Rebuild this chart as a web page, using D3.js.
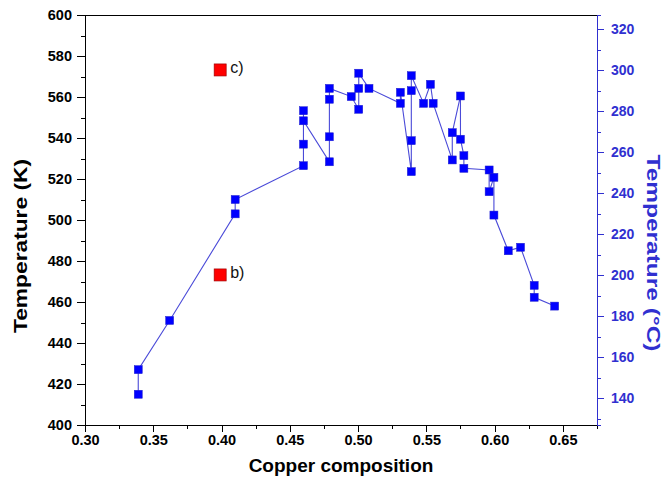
<!DOCTYPE html>
<html lang="en">
<head>
    <meta charset="utf-8">
    <title>Temperature vs copper composition</title>
    <style type="text/css">
        body { margin: 0; background: #fff; }
        svg text { font-family: Arial, "Liberation Sans", sans-serif; }
        .axis path, .axis line { stroke: #000; shape-rendering: crispEdges; }
        .axis text { font-size: 14.5px; font-weight: bold; fill: #000; }
        .axis.right path, .axis.right line { stroke: #3030d0; }
        .axis.right text { fill: #3030d0; font-size: 14px; }
        .line { fill: none; stroke: #4a4ad8; stroke-width: 1.1; }
        .dot { fill: #0000ff; stroke: #2222cc; stroke-width: 0.5; }
        .red { fill: #ff0000; stroke: #a00000; stroke-width: 0.7; }
        .title { font-size: 19px; font-weight: bold; }
    </style>
</head>
<body>
<div id="chart"></div>

<script src="https://cdn.jsdelivr.net/npm/d3@7"></script>
<script type="text/javascript">

    // measured series (blue squares), in drawing order
    var composition = [0.339, 0.339, 0.362, 0.410, 0.410,
        0.460, 0.460, 0.460, 0.460, 0.479, 0.479, 0.479, 0.479,
        0.495, 0.5005, 0.5005, 0.5005, 0.508, 0.531, 0.531,
        0.539, 0.539, 0.539, 0.539, 0.548, 0.553, 0.555,
        0.569, 0.569, 0.575, 0.575, 0.5775, 0.5775,
        0.596, 0.596, 0.5995, 0.5995, 0.610, 0.619, 0.629, 0.629, 0.644];
    var temperatureK = [415, 427, 451, 503, 510,
        526.5, 537, 553.3, 548.4, 528.4, 540.6, 558.9, 564.2,
        560.2, 554, 564.2, 571.6, 564.2, 556.9, 562.3,
        523.6, 538.7, 563.1, 570.4, 556.9, 566.2, 556.9,
        529.3, 542.6, 560.5, 539.4, 531.4, 525.2,
        524.4, 513.8, 520.8, 502.4, 485, 486.7, 468.1, 462.3, 458];

    // marked samples (red squares)
    var markX = [0.399, 0.399];
    var markK = [473.2, 573.2];
    var markLabels = ["b)", "c)"];

    var xTicks = [0.30, 0.35, 0.40, 0.45, 0.50, 0.55, 0.60, 0.65];
    var kTicks = [400, 420, 440, 460, 480, 500, 520, 540, 560, 580, 600];
    var cTicks = [140, 160, 180, 200, 220, 240, 260, 280, 300, 320];

    var W = 663, H = 491;
    var margin = { left: 85, right: 66, top: 15, bottom: 66 };
    var width = W - margin.left - margin.right,
        height = H - margin.top - margin.bottom;

    var svg = d3.select("#chart")
        .append("svg")
        .attr("width", W)
        .attr("height", H)
        .append("g")
        .attr("transform", "translate(" + margin.left + "," + margin.top + ")");

    var xScale = d3.scaleLinear().domain([0.30, 0.675]).range([0, width]);
    var yScale = d3.scaleLinear().domain([400, 600]).range([height, 0]);
    var cScale = d3.scaleLinear().domain([400 - 273.15, 600 - 273.15]).range([height, 0]);

    // top frame
    svg.append("line")
        .attr("x1", 0).attr("x2", width)
        .attr("y1", 0).attr("y2", 0)
        .attr("stroke", "#000")
        .attr("shape-rendering", "crispEdges");

    // x axis, minor then major
    svg.append("g")
        .attr("class", "axis")
        .attr("transform", "translate(0," + height + ")")
        .call(d3.axisBottom(xScale).tickValues(d3.range(0.325, 0.68, 0.05)).tickSize(4).tickFormat(""));
    svg.append("g")
        .attr("class", "axis")
        .attr("transform", "translate(0," + height + ")")
        .call(d3.axisBottom(xScale).tickValues(xTicks).tickSize(7).tickSizeOuter(0).tickPadding(3).tickFormat(d3.format(".2f")));

    // left axis (K)
    svg.append("g")
        .attr("class", "axis")
        .call(d3.axisLeft(yScale).tickValues(d3.range(410, 600, 20)).tickSize(4).tickFormat(""));
    svg.append("g")
        .attr("class", "axis")
        .call(d3.axisLeft(yScale).tickValues(kTicks).tickSize(8).tickSizeOuter(0).tickPadding(5));

    // right axis (°C)
    svg.append("g")
        .attr("class", "axis right")
        .attr("transform", "translate(" + width + ",0)")
        .call(d3.axisRight(cScale).tickValues(d3.range(130, 330, 20)).tickSize(4).tickFormat(""));
    svg.append("g")
        .attr("class", "axis right")
        .attr("transform", "translate(" + width + ",0)")
        .call(d3.axisRight(cScale).tickValues(cTicks).tickSize(7).tickSizeOuter(0).tickPadding(7));

    // titles
    svg.append("text")
        .attr("class", "title")
        .attr("x", width / 2)
        .attr("y", height + 47)
        .attr("text-anchor", "middle")
        .text("Copper composition");

    svg.append("text")
        .attr("class", "title")
        .attr("transform", "translate(" + (27 - margin.left) + "," + (231) + ") rotate(-90)")
        .attr("text-anchor", "middle")
        .attr("textLength", 174)
        .attr("lengthAdjust", "spacingAndGlyphs")
        .text("Temperature (K)");

    svg.append("text")
        .attr("class", "title")
        .attr("fill", "#3030d0")
        .attr("transform", "translate(" + (width + 50) + "," + (238) + ") rotate(90)")
        .attr("text-anchor", "middle")
        .attr("textLength", 197)
        .attr("lengthAdjust", "spacingAndGlyphs")
        .text("Temperature (\u00b0C)");

    // series
    var dataset = composition.map(function(d, i) { return { x: d, y: temperatureK[i] }; });

    var line = d3.line()
        .x(function(d) { return xScale(d.x); })
        .y(function(d) { return yScale(d.y); });

    svg.append("path")
        .datum(dataset)
        .attr("class", "line")
        .attr("d", line);

    var s = 8;
    svg.selectAll(".dot")
        .data(dataset)
        .enter().append("rect")
        .attr("class", "dot")
        .attr("x", function(d) { return xScale(d.x) - s / 2; })
        .attr("y", function(d) { return yScale(d.y) - s / 2; })
        .attr("width", s)
        .attr("height", s);

    var marks = markX.map(function(d, i) { return { x: d, y: markK[i], label: markLabels[i] }; });
    var r = 12;
    svg.selectAll(".red")
        .data(marks)
        .enter().append("rect")
        .attr("class", "red")
        .attr("x", function(d) { return xScale(d.x) - r / 2; })
        .attr("y", function(d) { return yScale(d.y) - r / 2; })
        .attr("width", r)
        .attr("height", r);

    svg.selectAll(".mark-label")
        .data(marks)
        .enter().append("text")
        .attr("class", "mark-label")
        .attr("x", function(d) { return xScale(d.x) + 10; })
        .attr("y", function(d) { return yScale(d.y) + 3; })
        .attr("font-size", "16px")
        .attr("fill", "#111")
        .text(function(d) { return d.label; });

</script>
</body>
</html>
